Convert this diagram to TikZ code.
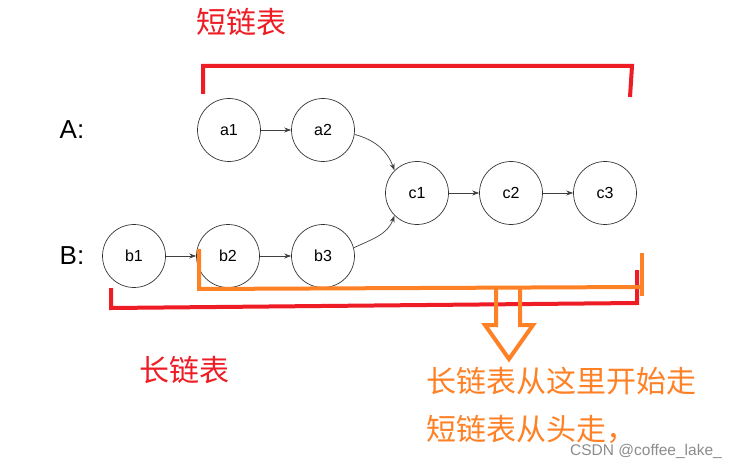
\documentclass[tikz,border=0pt]{standalone}
\usepackage{fontspec}
\setmainfont{Liberation Sans}
\newfontfamily\cjk{Noto Sans CJK SC}
\usetikzlibrary{arrows.meta}
\definecolor{myred}{HTML}{EE1C25}
\definecolor{myorange}{HTML}{FF8126}
\begin{document}
\begin{tikzpicture}[x=1pt,y=-1pt,
  nd/.style={circle,draw=black!80,line width=0.7pt,minimum size=63pt,inner sep=0pt,font=\fontsize{16}{18}\selectfont},
  lnk/.style={draw=black!75,line width=0.7pt,-{Stealth[length=7pt,width=5pt]}},
  rb/.style={draw=myred,line width=4pt,line join=miter},
  ob/.style={draw=myorange,line width=4pt},
  lbl/.style={font=\fontsize{26}{28}\selectfont},
  cjkred/.style={text=myred,font=\cjk\fontsize{30}{32}\selectfont},
  cjkor/.style={text=myorange,font=\cjk\fontsize{30}{32}\selectfont,anchor=west}]
\useasboundingbox (0,0) rectangle (745,468);
\fill[white] (0,0) rectangle (745,468);
\node[nd] (a1) at (229,130) {a1};
\node[nd] (a2) at (323,130) {a2};
\node[nd] (c1) at (417,193) {c1};
\node[nd] (c2) at (511,193) {c2};
\node[nd] (c3) at (605,193) {c3};
\node[nd] (b1) at (134,256) {b1};
\node[nd] (b2) at (228,256) {b2};
\node[nd] (b3) at (323,256) {b3};
\node[lbl] (A) at (72,130) {A:};
\node[lbl] (B) at (72,256) {B:};
\draw[lnk] (a1) -- (a2);
\draw[lnk] (c1) -- (c2);
\draw[lnk] (c2) -- (c3);
\draw[lnk] (b1) -- (b2);
\draw[lnk] (b2) -- (b3);
\draw[lnk] (a2.-8) to[out=-15,in=110] (c1.135);
\draw[lnk] (b3.15) to[out=25,in=-110] (c1.-135);
% red brackets
\coordinate (t1) at (203,94);
\coordinate (t2) at (203,66);
\coordinate (t3) at (632,66);
\coordinate (t4) at (630,97);
\draw[rb] (t1) -- (t2) -- (t3) -- (t4);
\coordinate (u1) at (111,288);
\coordinate (u2) at (111,308);
\coordinate (u3) at (637,303);
\coordinate (u4) at (637,270);
\draw[rb] (u1) -- (u2) -- (u3) -- (u4);
\node[cjkred] (short) at (241,22) {短链表};
\node[cjkred] (long) at (184,370) {长链表};
% orange bracket
\coordinate (o1) at (199,249);
\coordinate (o2) at (199,289);
\coordinate (o3) at (642,287);
\coordinate (o4) at (642,253);
\coordinate (o5) at (642,296);
\draw[ob] (o1) -- (o2) -- (o3);
\draw[ob] (o4) -- (o5);
% hollow arrow
\coordinate (h1) at (496,289);
\coordinate (h2) at (496,325);
\coordinate (h3) at (485,325);
\coordinate (h4) at (509,359);
\coordinate (h5) at (533,325);
\coordinate (h6) at (520,325);
\coordinate (h7) at (520,289);
\draw[ob,line join=miter] (h1) -- (h2) -- (h3) -- (h4) -- (h5) -- (h6) -- (h7);
\node[cjkor] (n1) at (423,381) {长链表从这里开始走};
\node[cjkor] (n2) at (423,429) {短链表从头走，};
\node[text=black!45,font=\fontsize{15.5}{17}\selectfont] (wm) at (646,451) {CSDN @coffee\_lake\_};
\end{tikzpicture}
\end{document}
